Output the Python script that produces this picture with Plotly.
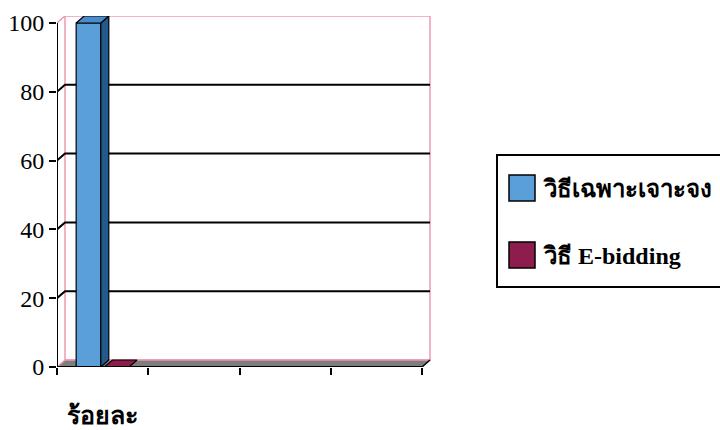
import plotly.graph_objects as go

# ---- data ----
categories = ["ร้อยละ"]
series_names = ["วิธีเฉพาะเจาะจง", "วิธี E-bidding"]
series_values = [[100], [0]]
y_ticks = [0, 20, 40, 60, 80, 100]
n_slots = 4

# ---- styling ----
front_colors = ["#5a9fd8", "#8c1d4c"]
side_colors = ["#23598c", "#5a0f30"]
top_colors = ["#4a8ccb", "#7a1840"]
FONT = "Liberation Serif, DejaVu Serif, serif"

# geometry (3D depth in px, converted to data units)
L, T = 57, 16
PW, PH = 375, 351
front_w_px, front_h_px = 365, 344
ux = n_slots / front_w_px      # data units per px (x)
uy = 100 / front_h_px          # data units per px (y)
DX, DY = 8 * ux, 7 * uy
bar_w = 0.27
offsets = [-0.29, 0.02]


def px_x(p):
    return (p - L) / PW


def px_y(p):
    return (T + PH - p) / PH


fig = go.Figure()

# front faces (bars)
for i, (name, vals) in enumerate(zip(series_names, series_values)):
    xs = [c + 0.5 for c in range(len(vals))]
    fig.add_trace(go.Bar(
        x=xs, y=vals, name=name, width=bar_w, offset=offsets[i],
        marker=dict(color=front_colors[i], line=dict(color="black", width=1.2)),
        showlegend=False,
    ))

# side and top faces derived from the data
for i, vals in enumerate(series_values):
    for c, v in enumerate(vals):
        x0 = c + 0.5 + offsets[i]
        x1 = x0 + bar_w
        if v > 0:
            fig.add_trace(go.Scatter(
                x=[x1, x1 + DX, x1 + DX, x1, x1], y=[0, DY, v + DY, v, 0],
                fill="toself", fillcolor=side_colors[i], mode="lines",
                line=dict(color="black", width=1.2), showlegend=False, hoverinfo="skip"))
        fig.add_trace(go.Scatter(
            x=[x0, x1, x1 + DX, x0 + DX, x0], y=[v, v, v + DY, v + DY, v],
            fill="toself", fillcolor=top_colors[i] if v > 0 else front_colors[i], mode="lines",
            line=dict(color="black", width=1.2), showlegend=False, hoverinfo="skip"))

shapes = []
pink = "#f09aae"
# back wall
shapes.append(dict(type="rect", x0=DX, x1=n_slots + DX, y0=DY, y1=100 + DY,
                   line=dict(color=pink, width=1.5), fillcolor="white", layer="below"))
# left wall edges
shapes.append(dict(type="line", x0=0, y0=100, x1=DX, y1=100 + DY, line=dict(color=pink, width=1.5), layer="below"))
# floor
shapes.append(dict(type="path",
                   path=f"M0,0 L{n_slots},0 L{n_slots + DX},{DY} L{DX},{DY} Z",
                   fillcolor="#7d7d7d", line=dict(width=0), layer="below"))
shapes.append(dict(type="line", x0=0, y0=0, x1=DX, y1=DY, line=dict(color=pink, width=1.5), layer="below"))
shapes.append(dict(type="line", x0=DX, y0=DY, x1=n_slots + DX, y1=DY, line=dict(color=pink, width=1.5), layer="below"))
# gridlines on back wall
for v in y_ticks[1:-1]:
    shapes.append(dict(type="path",
                       path=f"M0,{v} L{DX},{v + DY} L{n_slots + DX},{v + DY}",
                       line=dict(color="black", width=2), layer="below"))
# axes lines
shapes.append(dict(type="line", x0=0, y0=0, x1=0, y1=100, line=dict(color="black", width=2), layer="above"))
shapes.append(dict(type="line", x0=0, y0=0, x1=n_slots, y1=0, line=dict(color="black", width=2), layer="above"))
shapes.append(dict(type="line", x0=n_slots, y0=0, x1=n_slots + DX, y1=DY, line=dict(color="black", width=1.5), layer="above"))

# legend (frame, swatches, labels)
shapes.append(dict(type="rect", xref="paper", yref="paper",
                   x0=px_x(497), x1=px_x(724), y0=px_y(287), y1=px_y(155),
                   line=dict(color="black", width=2), fillcolor="white", layer="above"))
legend_rows = [188, 255]
for i, name in enumerate(series_names):
    cy = legend_rows[i]
    shapes.append(dict(type="rect", xref="paper", yref="paper",
                       x0=px_x(509), x1=px_x(535), y0=px_y(cy + 13), y1=px_y(cy - 13),
                       line=dict(color="black", width=1.5), fillcolor=front_colors[i], layer="above"))
    fig.add_annotation(x=px_x(541), y=px_y(cy + 1), xref="paper", yref="paper",
                       xanchor="left", yanchor="middle", text=f"<b>{name}</b>", showarrow=False,
                       font=dict(family=FONT, size=24, color="black"))
fig.update_layout(shapes=shapes)

# category labels
for c, cat in enumerate(categories):
    fig.add_annotation(x=c + 0.5, y=px_y(415), xref="x", yref="paper", yanchor="middle",
                       text=f"<b>{cat}</b>", showarrow=False,
                       font=dict(family=FONT, size=25, color="black"))

fig.update_layout(
    width=720, height=430,
    margin=dict(l=L, r=720 - L - PW, t=T, b=430 - T - PH, autoexpand=False),
    paper_bgcolor="white", plot_bgcolor="white",
    barmode="overlay",
    font=dict(family=FONT, color="black"),
    xaxis=dict(range=[0, PW * ux], tickvals=list(range(n_slots + 1)), ticktext=[""] * (n_slots + 1),
               ticks="outside", ticklen=7, tickwidth=2, tickcolor="black",
               showgrid=False, zeroline=False, showline=False, fixedrange=True),
    yaxis=dict(range=[0, PH * uy], tickvals=y_ticks, ticks="outside", ticklen=7, tickwidth=2,
               tickcolor="black", tickfont=dict(family=FONT, size=24, color="black"),
               showgrid=False, zeroline=False, showline=False, fixedrange=True),
    showlegend=False,
)

fig.write_html("out.html", config={"displayModeBar": False},
               post_script="document.body.style.margin='0';document.body.style.overflow='hidden';")
